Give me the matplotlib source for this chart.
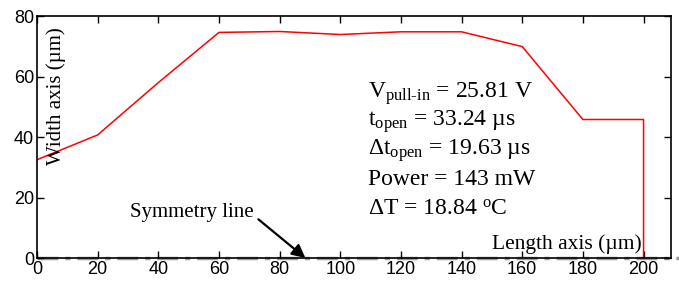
import matplotlib.pyplot as plt

plt.rcParams['mathtext.fontset'] = 'custom'
plt.rcParams['mathtext.rm'] = 'Liberation Serif'
plt.rcParams['mathtext.it'] = 'Liberation Serif:italic'

length_um = [0, 20, 40, 60, 80, 100, 120, 140, 160, 180, 200, 200]
width_um = [32.5, 40.7, 58, 74.6, 74.9, 73.9, 74.8, 74.8, 69.9, 45.8, 45.8, 0]

x_ticks = [0, 20, 40, 60, 80, 100, 120, 140, 160, 180, 200]
y_ticks = [0, 20, 40, 60, 80]

info_lines = [
    r'V$_{\text{pull-in}}$ = 25.81 V',
    r't$_{\text{open}}$ = 33.24 µs',
    r'Δt$_{\text{open}}$ = 19.63 µs',
    'Power = 143 mW',
    r'ΔT = 18.84 $^{\mathrm{o}}$C',
]

fig = plt.figure(figsize=(6.79, 2.82), dpi=100)
ax = fig.add_axes([0.0545, 0.085, 0.9335, 0.858])

ax.plot(length_um, width_um, color='red', lw=1.1)

# symmetry line along the length axis
ax.plot([0, 214], [0, 0], color='#999999', lw=2.5, ls=(0, (6, 2, 1.5, 2)),
        clip_on=False, zorder=1)

ax.set_xlim(0, 209)
ax.set_ylim(0, 80)
ax.set_xticks(x_ticks)
ax.set_yticks(y_ticks)
ax.tick_params(direction='in', top=True, right=True, length=5, width=1, pad=2,
               labelsize=13)
for lab in ax.get_xticklabels() + ax.get_yticklabels():
    lab.set_family('Liberation Sans')
for sp in ax.spines.values():
    sp.set_linewidth(1.2)

serif = 'Liberation Serif'
ax.text(0.015, 0.67, 'Width axis (µm)', transform=ax.transAxes, rotation=90,
        ha='left', va='center', fontsize=15, family=serif)
ax.text(199.5, 1.2, 'Length axis (µm)', ha='right', va='bottom', fontsize=15.5, family=serif)

ax.text(71.5, 15, 'Symmetry line', ha='right', va='center', fontsize=15, family=serif)
ax.annotate('', xy=(88.5, 0), xytext=(73, 12.8),
            arrowprops=dict(arrowstyle='-|>', color='black', lw=1.6,
                            mutation_scale=20, shrinkA=0, shrinkB=0))

y0 = 54.5
for i, line in enumerate(info_lines):
    ax.text(109, y0 - i * 9.55, line, ha='left', va='center', fontsize=17, family=serif)

fig.savefig('out.png', dpi=100)
